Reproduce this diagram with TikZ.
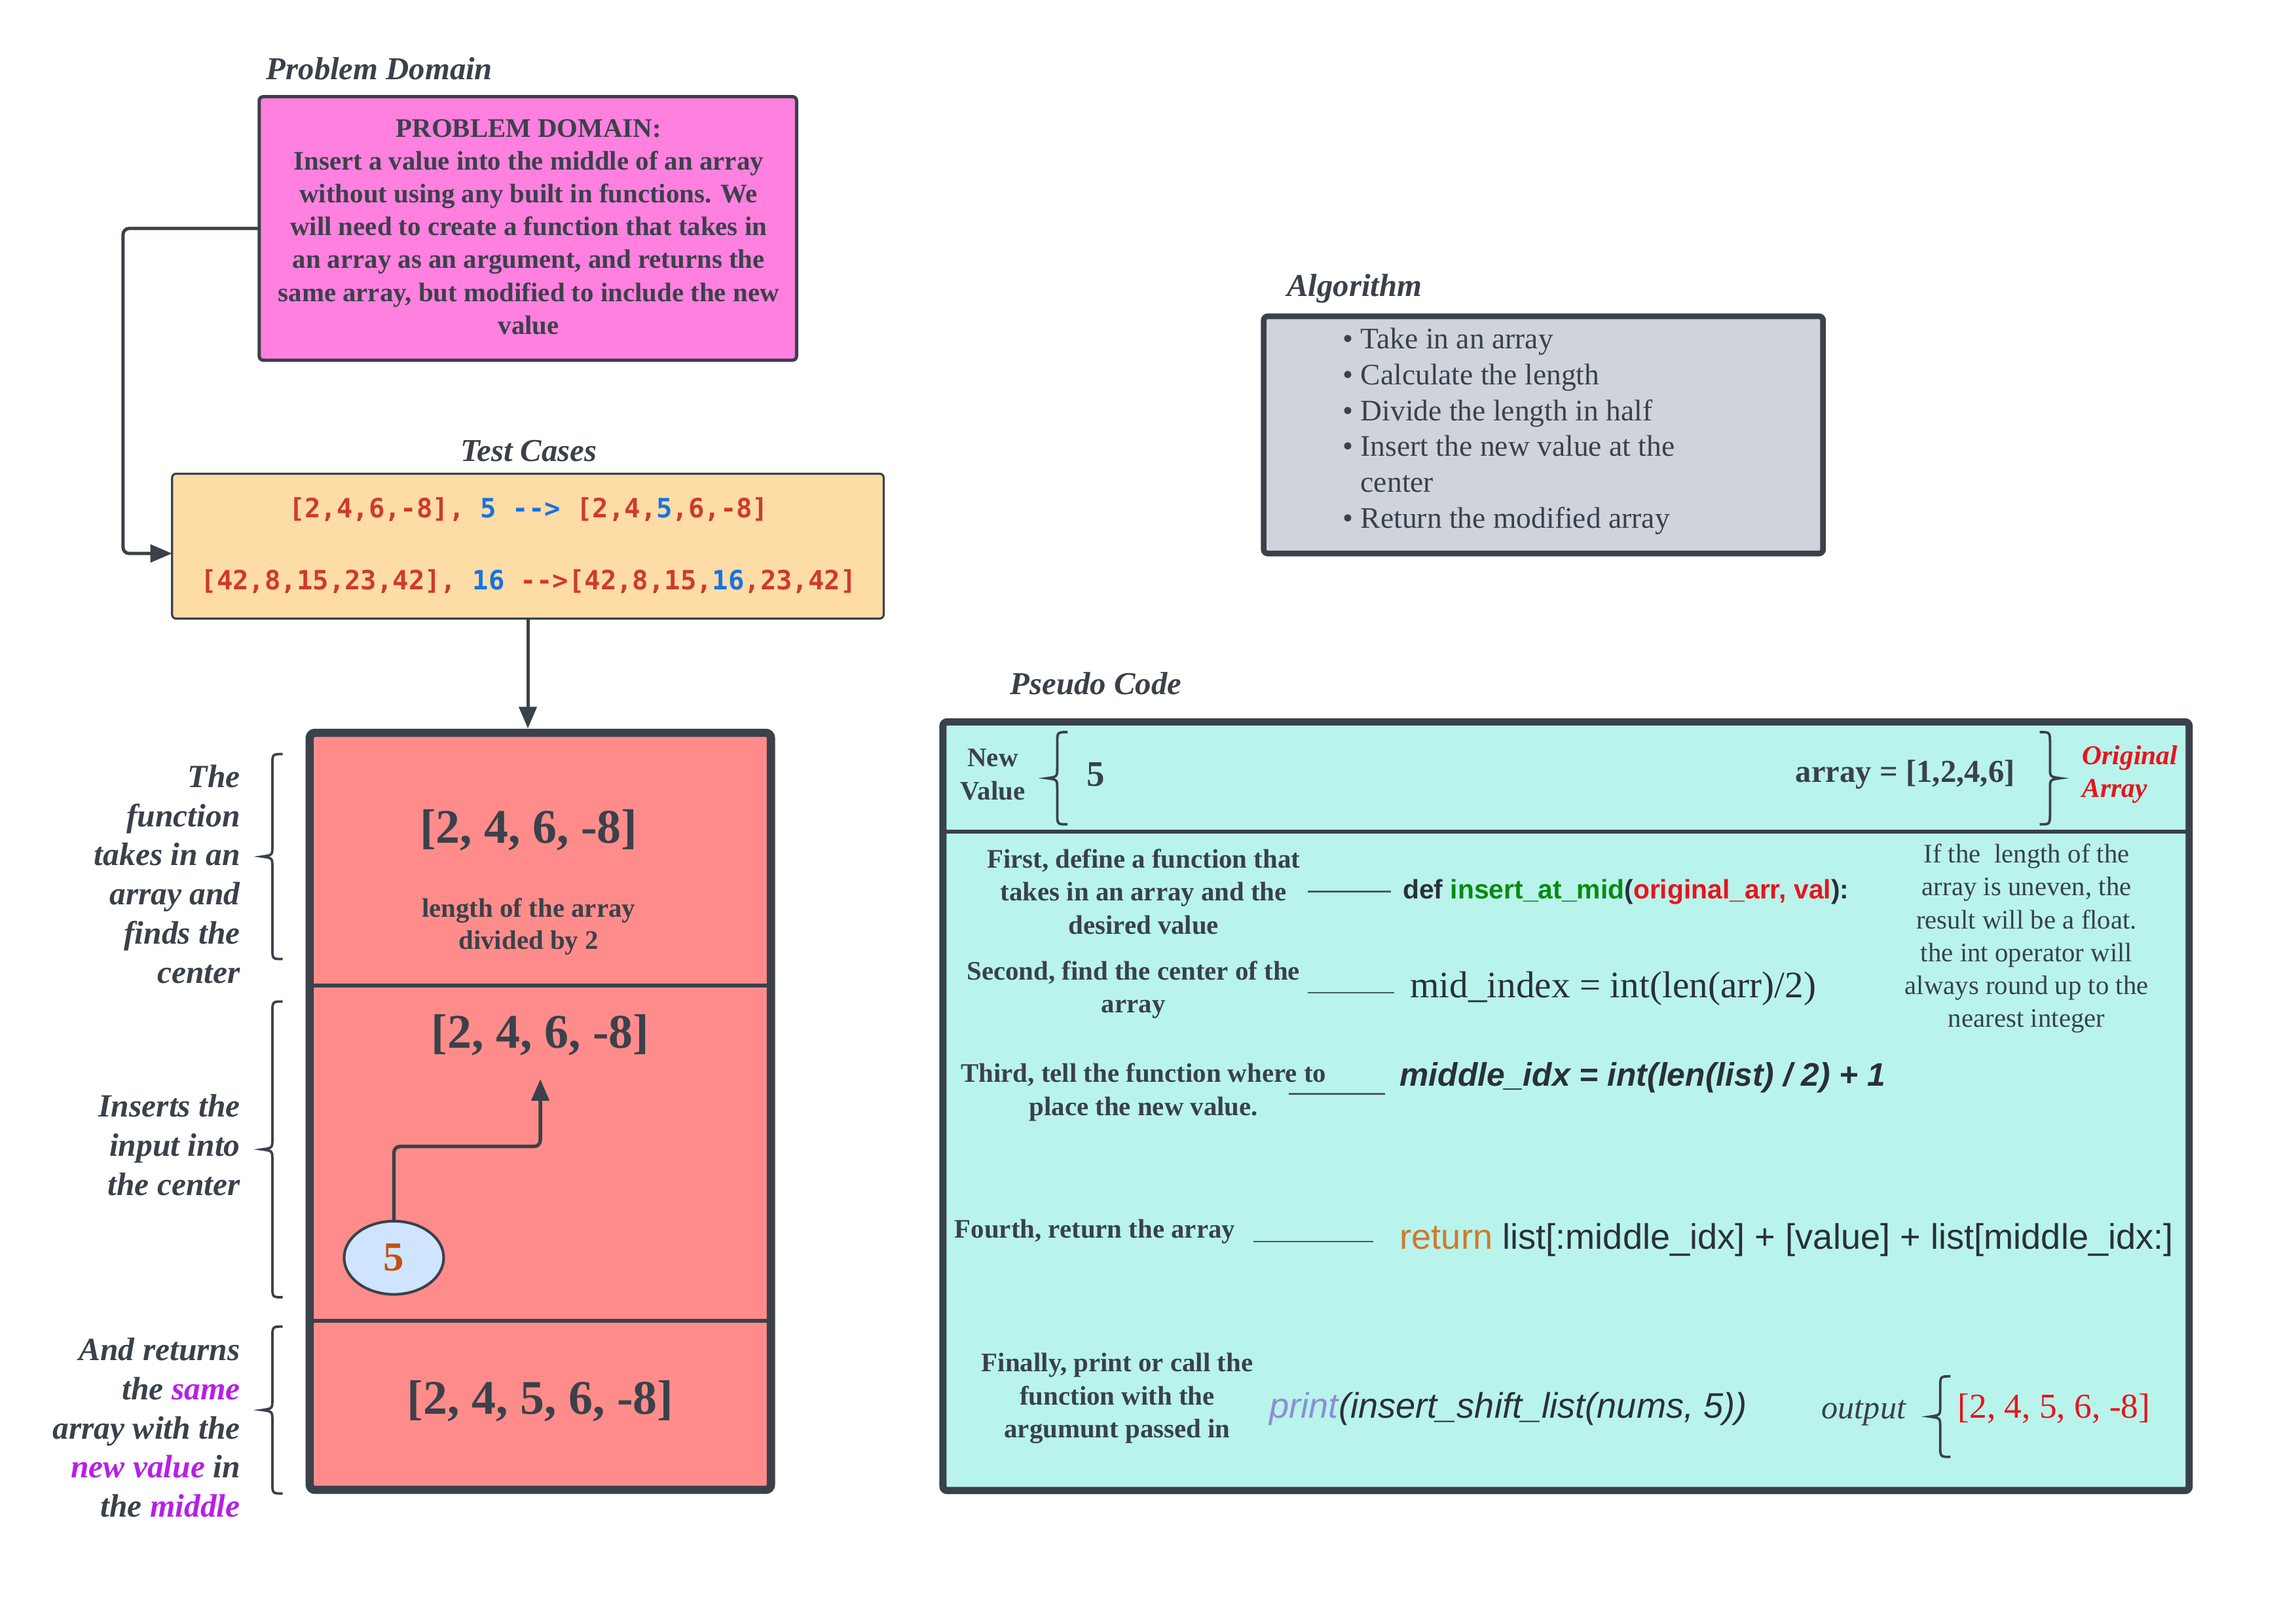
\documentclass[tikz,border=0pt]{standalone}
\usepackage{fontspec}
\setmainfont{Liberation Serif}
\newfontfamily\codefont{Liberation Sans}
\newfontfamily\monofont{DejaVu Sans Mono}
\usetikzlibrary{arrows.meta,fit,calc,shapes.geometric}
\definecolor{ink}{HTML}{3A414A}
\definecolor{codeink}{HTML}{2B3036}
\definecolor{pdpink}{HTML}{FF80DF}
\definecolor{tcpeach}{HTML}{FEDCA6}
\definecolor{rbred}{HTML}{FF8C8A}
\definecolor{algray}{HTML}{CFD4DC}
\definecolor{psaqua}{HTML}{B8F4EC}
\definecolor{ellblue}{HTML}{CFE4FF}
\definecolor{fivec}{HTML}{C4500F}
\definecolor{tcred}{HTML}{CF3A2C}
\definecolor{tcblue}{HTML}{1473E6}
\definecolor{purp}{HTML}{B620E8}
\definecolor{codered}{HTML}{E8141B}
\definecolor{codegreen}{HTML}{0A8A0E}
\definecolor{retorange}{HTML}{CF7A2E}
\definecolor{printlilac}{HTML}{8E8DD6}
\definecolor{lineg}{HTML}{4F5861}
\newcommand\myfs[2]{\fontsize{#1}{#2}\selectfont}
\newcommand\bracel[3]{%
  \draw[bracestyle] ({#1+7},#2) .. controls (#1,#2) .. (#1,{#2+8}) -- (#1,{(#2+#3)/2-7}) .. controls (#1,{(#2+#3)/2-1}) .. ({#1-7},{(#2+#3)/2}) .. controls (#1,{(#2+#3)/2+1}) .. (#1,{(#2+#3)/2+7}) -- (#1,{#3-8}) .. controls (#1,#3) .. ({#1+7},#3);}
\newcommand\bracer[3]{%
  \draw[bracestyle] ({#1-7},#2) .. controls (#1,#2) .. (#1,{#2+8}) -- (#1,{(#2+#3)/2-7}) .. controls (#1,{(#2+#3)/2-1}) .. ({#1+7},{(#2+#3)/2}) .. controls (#1,{(#2+#3)/2+1}) .. (#1,{(#2+#3)/2+7}) -- (#1,{#3-8}) .. controls (#1,#3) .. ({#1-7},#3);}
\begin{document}
\begin{tikzpicture}[x=0.05cm,y=-0.05cm,
  every node/.style={inner sep=0pt, outer sep=0pt, text=ink},
  box/.style={draw=ink, rounded corners=4pt, inner sep=0pt},
  head/.style={font=\myfs{31}{36}\bfseries\itshape},
  conn/.style={draw=ink, line width=3.2pt, rounded corners=6pt},
  tip/.style={-{Triangle[length=21pt,width=17pt]}},
  bracestyle/.style={draw=ink, line width=2.4pt},
  desc/.style={font=\myfs{26}{32}\bfseries, align=center},
  side/.style={font=\myfs{31.5}{38}\bfseries\itshape, align=right, anchor=east},
  bigarr/.style={font=\myfs{47}{50}\bfseries},
  guide/.style={draw=lineg, line width=1.7pt},
]
\fill[white] (0,0) rectangle (1568,1108.9);
\useasboundingbox (0,0) rectangle (1568,1108.9);

% Problem domain
\node[head, anchor=west] (hpd) at (182,47) {Problem Domain};
\node[box, fill=pdpink, line width=3.2pt, fit={(177,66) (544,246)}] (pd) {};
\node[desc, font=\myfs{26}{31.9}\bfseries] (pdt) at (361,155) {PROBLEM DOMAIN:\\Insert a value into the middle of an array\\without using any built in functions. We\\will need to create a function that takes in\\an array as an argument, and returns the\\same array, but modified to include the new\\value};

% Test cases
\node[head] (htc) at (361,308) {Test Cases};
\node[box, fill=tcpeach, line width=2pt, fit={(117.5,323.5) (603.5,422.5)}] (tc) {};
\node[font=\myfs{25.8}{30}\monofont\bfseries] (tc1) at (361,348) {\color{tcred}[2,4,6,-8], \color{tcblue}5 -{}-{}> \color{tcred}[2,4,\color{tcblue}5\color{tcred},6,-8]};
\node[font=\myfs{25.8}{30}\monofont\bfseries] (tc2) at (361,397) {\color{tcred}[42,8,15,23,42], \color{tcblue}16 \color{tcred}-{}-{}>[42,8,15,\color{tcblue}16\color{tcred},23,42]};

\draw[conn, tip] (pd.west) -- (84,156) |- ($(tc.west)+(0,5)$);

% Red box
\node[box, fill=rbred, line width=8pt, rounded corners=5pt, fit={(211.5,500.5) (526.5,1017.5)}] (rb) {};
\draw[ink, line width=4pt] (rb.west |- 0,673) -- (rb.east |- 0,673);
\draw[ink, line width=4pt] (rb.west |- 0,902) -- (rb.east |- 0,902);
\draw[conn, tip] (tc.south) -- ($(tc.south |- rb.north)+(0,-3)$);

\node[bigarr] (a1) at (361,567) {[2, 4, 6, -8]};
\node[desc, font=\myfs{26}{31}\bfseries] (a1t) at (361,633) {length of the array\\divided by 2};
\node[bigarr] (a2) at (369,707) {[2, 4, 6, -8]};
\node[bigarr] (a3) at (369,957) {[2, 4, 5, 6, -8]};
\node[ellipse, draw=ink, line width=2.6pt, fill=ellblue, minimum width=3.4cm, minimum height=2.5cm, font=\myfs{40}{42}\bfseries, text=fivec] (ell) at (269,859) {5};
\coordinate (arrtip) at (369,737);
\draw[conn, tip, line width=3.4pt] (ell.north) |- (369,783) -- (arrtip);

% side labels
\node[side] (s1) at (164,597) {The\\function\\takes in an\\array and\\finds the\\center};
\node[side] (s2) at (164,782) {Inserts the\\input into\\the center};
\node[side] (s3) at (164,975) {And returns\\the {\color{purp}same}\\array with the\\{\color{purp}new value} in\\the {\color{purp}middle}};
\bracel{186}{515}{655}
\bracel{186}{684}{886}
\bracel{186}{906}{1020}

% Algorithm
\node[head, anchor=west] (hal) at (879,197) {Algorithm};
\node[box, fill=algray, line width=5.5pt, fit={(863,216) (1245,378)}] (al) {};
\node[font=\myfs{29}{34.8}, align=left, anchor=west] (alt) at (917,294.5) {\textbullet\ Take in an array\\\textbullet\ Calculate the length\\\textbullet\ Divide the length in half\\\textbullet\ Insert the new value at the\\\phantom{\textbullet\ }center\\\textbullet\ Return the modified array};

% Pseudo code
\node[head, anchor=west] (hps) at (690,467) {Pseudo Code};
\node[box, fill=psaqua, line width=7pt, fit={(644,493) (1495,1018)}] (ps) {};
\draw[ink, line width=3.8pt] (ps.west |- 0,568) -- (ps.east |- 0,568);

\node[desc, font=\myfs{26}{32.5}\bfseries] (nv) at (678,529) {New\\Value};
\bracel{722}{500}{563}
\node[anchor=west, font=\myfs{35}{38}\bfseries] (five) at (742,529) {5};
\node[anchor=east, font=\myfs{31}{34}\bfseries] (orig) at (1376,529) {array = [1,2,4,6]};
\bracer{1400}{500}{563}
\node[anchor=west, align=left, font=\myfs{26.5}{32}\bfseries\itshape, text=codered] (origlbl) at (1422,529) {Original\\Array};

\node[desc] (d1) at (781,609) {First, define a function that\\takes in an array and the\\desired value};
\node[anchor=west, font=\myfs{26}{30}\codefont\bfseries, text=codeink] (c1) at (958,609) {def \textcolor{codegreen}{insert\_at\_mid}(\textcolor{codered}{original\_arr, val}):};
\draw[guide] (893,609) coordinate (g1a) -- (950,609) coordinate (g1b);

\node[font=\myfs{26}{32}, align=center] (note) at (1384,641) {If the \ length of the\\array is uneven, the\\result will be a float.\\the int operator will\\always round up to the\\nearest integer};

\node[desc] (d2) at (774,676) {Second, find the center of the\\array};
\draw[guide] (893,678) coordinate (g2a) -- (952,678) coordinate (g2b);
\node[anchor=west, font=\myfs{36.4}{40}, text=codeink] (c2) at (963,675) {mid\_index = int(len(arr)/2)};

\node[desc] (d3) at (781,746) {Third, tell the function where to\\place the new value.};
\draw[guide] (880,747) coordinate (g3a) -- (946,747) coordinate (g3b);
\node[anchor=west, font=\myfs{31.7}{36}\codefont\bfseries\itshape, text=codeink] (c3) at (956,736) {middle\_idx = int(len(list) / 2) + 1};

\node[desc, anchor=west] (d4) at (652,841) {Fourth, return the array};
\draw[guide] (856,848) coordinate (g4a) -- (938,848) coordinate (g4b);
\node[anchor=west, font=\myfs{34.5}{38}\codefont, text=codeink] (c4) at (956,847) {\textcolor{retorange}{return} list[:middle\_idx] + [value] + list[middle\_idx:]};

\node[desc] (d5) at (763,955) {Finally, print or call the\\function with the\\argumunt passed in};
\node[anchor=west, font=\myfs{34.5}{38}\codefont\itshape, text=codeink] (c5) at (867,962) {\textcolor{printlilac}{print}(insert\_shift\_list(nums, 5))};
\node[anchor=west, font=\myfs{32}{36}\itshape] (outl) at (1244,965) {output};
\bracel{1325}{940}{995}
\node[anchor=west, font=\myfs{34}{38}, text=codered] (outv) at (1337,962) {[2, 4, 5, 6, -8]};
\end{tikzpicture}
\end{document}
